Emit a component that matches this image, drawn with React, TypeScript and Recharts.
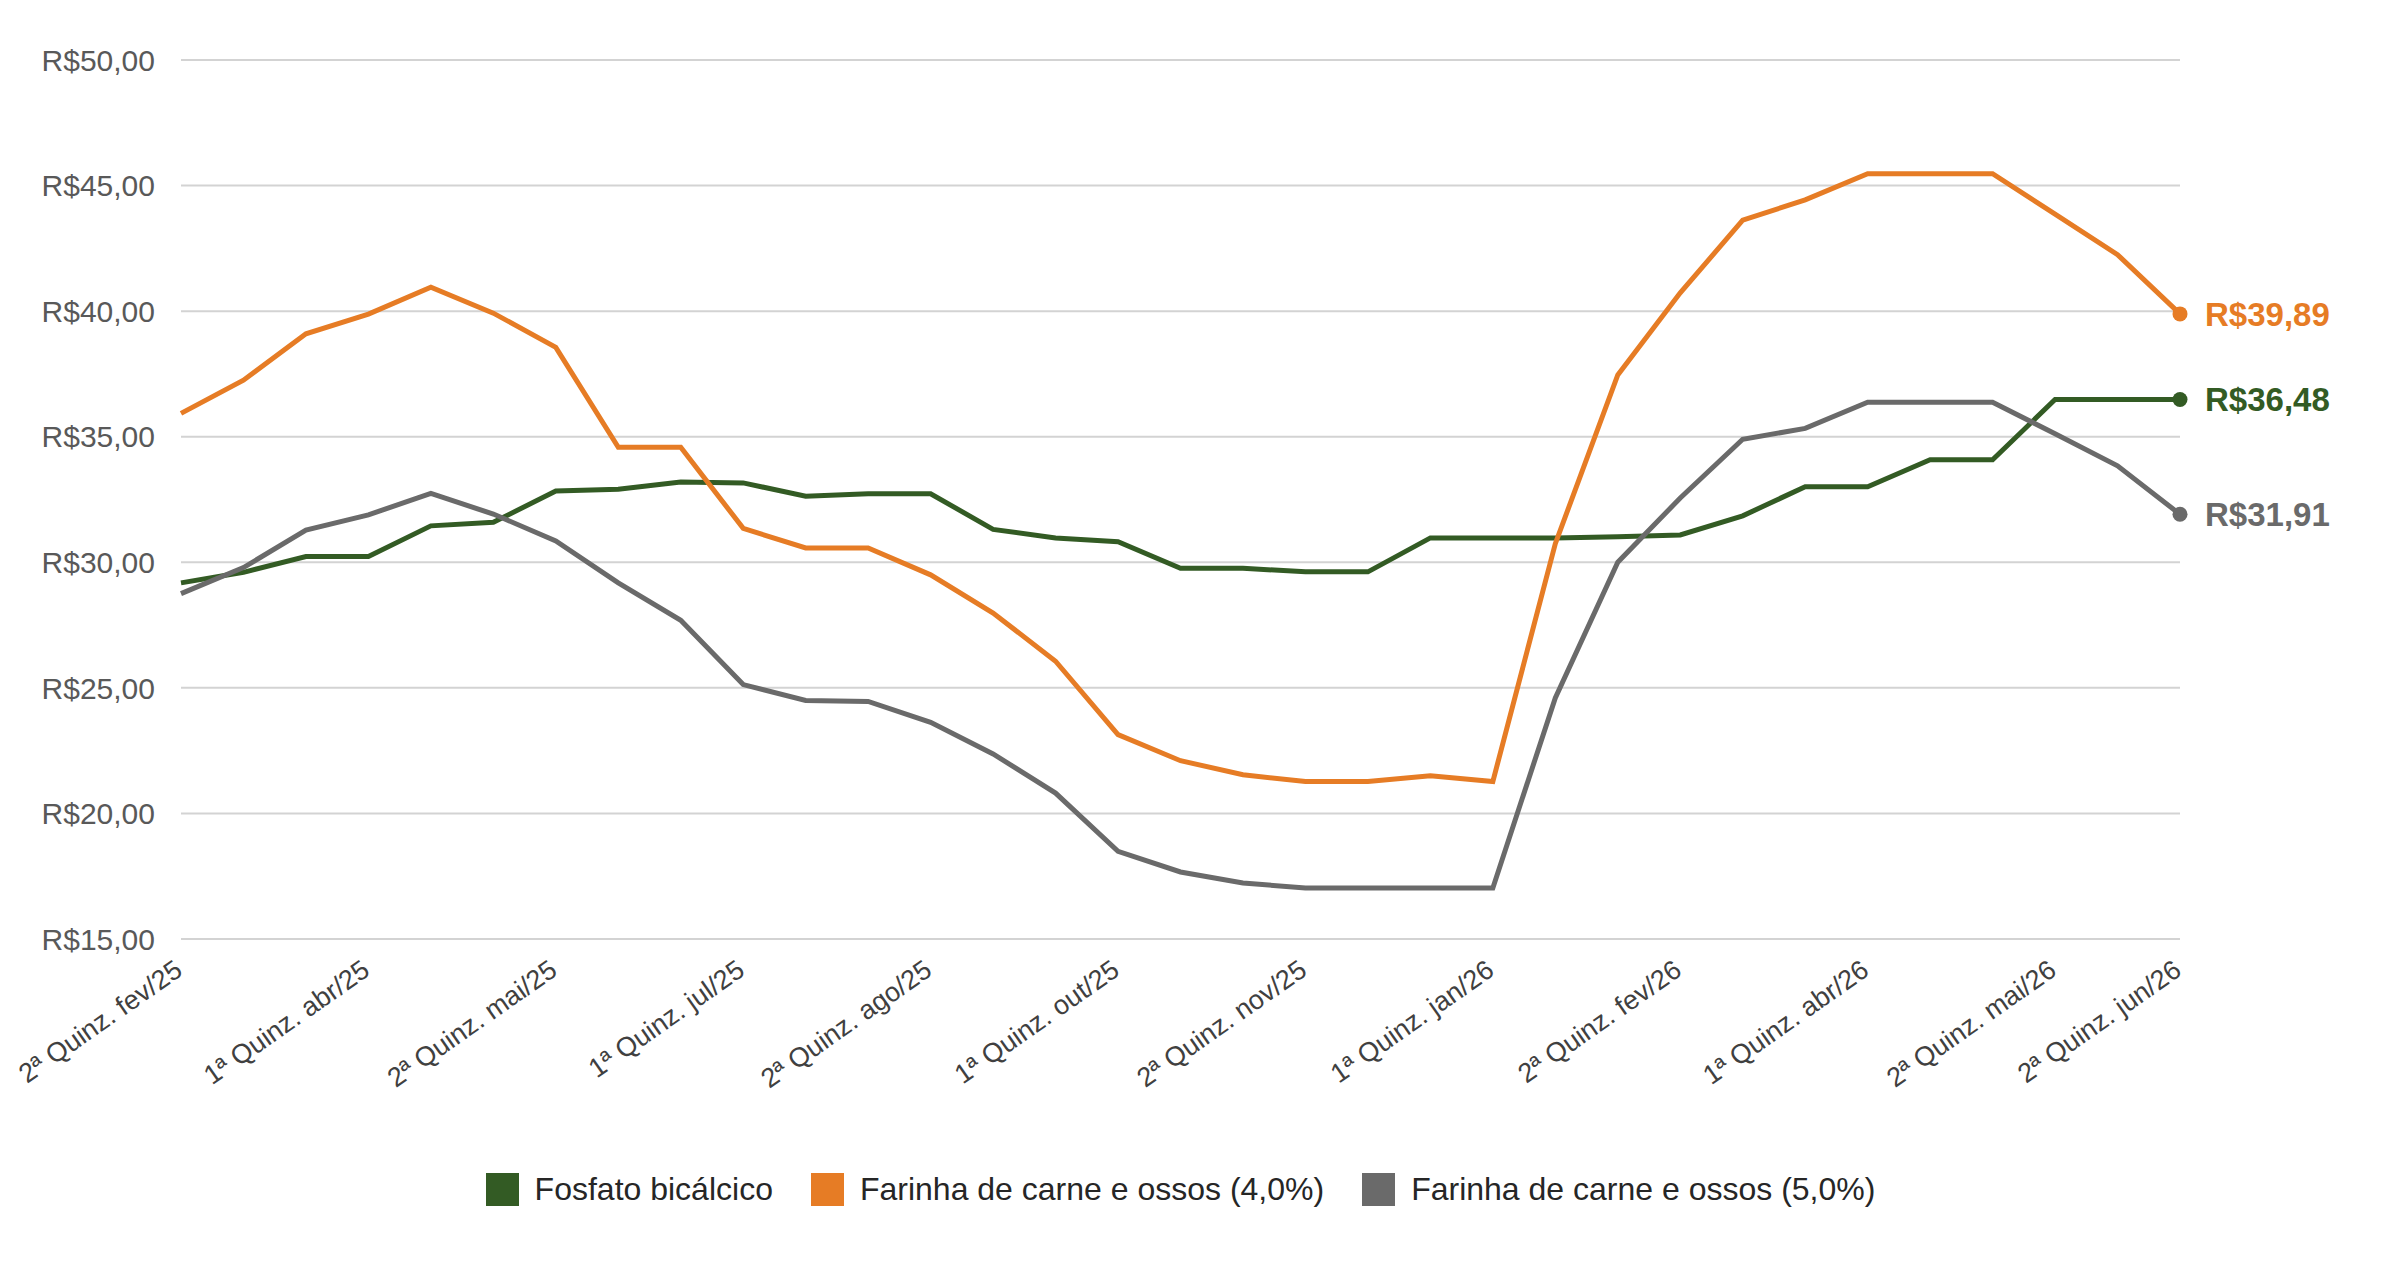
import React from 'react';
import { LineChart, Line, CartesianGrid, XAxis, YAxis, Legend, LabelList } from 'recharts';

// quinzenas (fev/25 - jun/26)
const periods = [
    '2ª Quinz. fev/25', '1ª Quinz. mar/25', '2ª Quinz. mar/25', '1ª Quinz. abr/25', '2ª Quinz. abr/25',
    '1ª Quinz. mai/25', '2ª Quinz. mai/25', '1ª Quinz. jun/25', '2ª Quinz. jun/25', '1ª Quinz. jul/25',
    '2ª Quinz. jul/25', '1ª Quinz. ago/25', '2ª Quinz. ago/25', '1ª Quinz. set/25', '2ª Quinz. set/25',
    '1ª Quinz. out/25', '2ª Quinz. out/25', '1ª Quinz. nov/25', '2ª Quinz. nov/25', '1ª Quinz. dez/25',
    '2ª Quinz. dez/25', '1ª Quinz. jan/26', '2ª Quinz. jan/26', '1ª Quinz. fev/26', '2ª Quinz. fev/26',
    '1ª Quinz. mar/26', '2ª Quinz. mar/26', '1ª Quinz. abr/26', '2ª Quinz. abr/26', '1ª Quinz. mai/26',
    '2ª Quinz. mai/26', '1ª Quinz. jun/26', '2ª Quinz. jun/26',
];

const xTicks = [
    '2ª Quinz. fev/25', '1ª Quinz. abr/25', '2ª Quinz. mai/25', '1ª Quinz. jul/25', '2ª Quinz. ago/25',
    '1ª Quinz. out/25', '2ª Quinz. nov/25', '1ª Quinz. jan/26', '2ª Quinz. fev/26', '1ª Quinz. abr/26',
    '2ª Quinz. mai/26', '2ª Quinz. jun/26',
];

const yTicks = [15, 20, 25, 30, 35, 40, 45, 50];

const fosfato = [
    29.18, 29.60, 30.23, 30.23, 31.45, 31.59, 32.84, 32.91, 33.20, 33.16, 32.63,
    32.73, 32.73, 31.31, 30.97, 30.82, 29.76, 29.76, 29.62, 29.62, 30.97, 30.97,
    30.97, 31.02, 31.09, 31.85, 33.01, 33.01, 34.08, 34.08, 36.48, 36.48, 36.48,
];

const farinha40 = [
    35.93, 37.25, 39.10, 39.88, 40.95, 39.92, 38.56, 34.58, 34.58, 31.35, 30.57,
    30.57, 29.50, 27.98, 26.06, 23.14, 22.10, 21.54, 21.27, 21.27, 21.50, 21.27,
    30.74, 37.46, 40.73, 43.62, 44.43, 45.47, 45.47, 45.47, 43.86, 42.25, 39.89,
];

const farinha50 = [
    28.75, 29.79, 31.28, 31.89, 32.74, 31.92, 30.85, 29.18, 27.69, 25.13, 24.50,
    24.46, 23.63, 22.37, 20.81, 18.49, 17.67, 17.23, 17.03, 17.03, 17.03, 17.03,
    24.60, 30.00, 32.56, 34.90, 35.33, 36.37, 36.37, 36.37, 35.12, 33.84, 31.91,
];

const series = [
    { key: 'fosfato', name: 'Fosfato bicálcico', color: '#335B24' },
    { key: 'farinha40', name: 'Farinha de carne e ossos (4,0%)', color: '#E67C25' },
    { key: 'farinha50', name: 'Farinha de carne e ossos (5,0%)', color: '#6A6A6A' },
];

const data = periods.map((periodo, i) => ({
    periodo,
    fosfato: fosfato[i],
    farinha40: farinha40[i],
    farinha50: farinha50[i],
}));

const last = data.length - 1;

const brl = (v: number) => 'R$' + v.toFixed(2).replace('.', ',');

const XTick = ({ x, y, payload }: any) => (
    <text
        x={x + 3}
        y={y + 27}
        transform={`rotate(-35, ${x + 3}, ${y + 27})`}
        textAnchor='end'
        fill='#404040'
        fontSize={27}
    >
        {payload.value}
    </text>
);

// legend keeps the series order (recharts would sort it by name)
const LegendContent = () => (
    <div style={{ display: 'flex', justifyContent: 'center', alignItems: 'center', fontSize: 32, color: '#262626' }}>
        {series.map((s, i) => (
            <div key={s.key} style={{ display: 'flex', alignItems: 'center', marginLeft: i ? 38 : 0 }}>
                <span style={{ display: 'inline-block', width: 33, height: 33, background: s.color, marginRight: 16 }} />
                <span>{s.name}</span>
            </div>
        ))}
    </div>
);

const App: React.FC = () => {
    return (
        <div style={{ position: 'absolute', left: 0, top: 0, fontFamily: '"Liberation Sans", Arial, sans-serif' }}>
            <LineChart
                width={2400}
                height={1280}
                data={data}
                margin={{ top: 60, right: 220, bottom: 141, left: 1 }}
            >
                <CartesianGrid vertical={false} stroke='#D3D3D3' strokeWidth={2} />
                <XAxis
                    dataKey='periodo'
                    ticks={xTicks}
                    interval={0}
                    axisLine={false}
                    tickLine={false}
                    height={200}
                    tick={<XTick />}
                />
                <YAxis
                    domain={[15, 50]}
                    ticks={yTicks}
                    width={180}
                    axisLine={false}
                    tickLine={false}
                    tickMargin={20}
                    tickFormatter={brl}
                    tick={{ fill: '#595959', fontSize: 30 }}
                />
                <Legend
                    verticalAlign='middle'
                    content={<LegendContent />}
                    wrapperStyle={{ top: 1171, left: 181, width: 1999 }}
                />
                {series.map((s) => (
                    <Line
                        key={s.key}
                        type='linear'
                        dataKey={s.key}
                        name={s.name}
                        stroke={s.color}
                        strokeWidth={5}
                        isAnimationActive={false}
                        activeDot={false}
                        dot={(p: any) =>
                            p.index === last
                                ? <circle key={`${s.key}-dot`} cx={p.cx} cy={p.cy} r={7.5} fill={s.color} />
                                : <g key={`${s.key}-${p.index}`} />
                        }
                    >
                        <LabelList
                            dataKey={s.key}
                            content={(p: any) =>
                                p.index === last ? (
                                    <text
                                        x={p.x + 25}
                                        y={p.y}
                                        dy='0.36em'
                                        fill={s.color}
                                        fontSize={33}
                                        fontWeight='bold'
                                    >
                                        {brl(p.value)}
                                    </text>
                                ) : null
                            }
                        />
                    </Line>
                ))}
            </LineChart>
        </div>
    );
};

export default App;
